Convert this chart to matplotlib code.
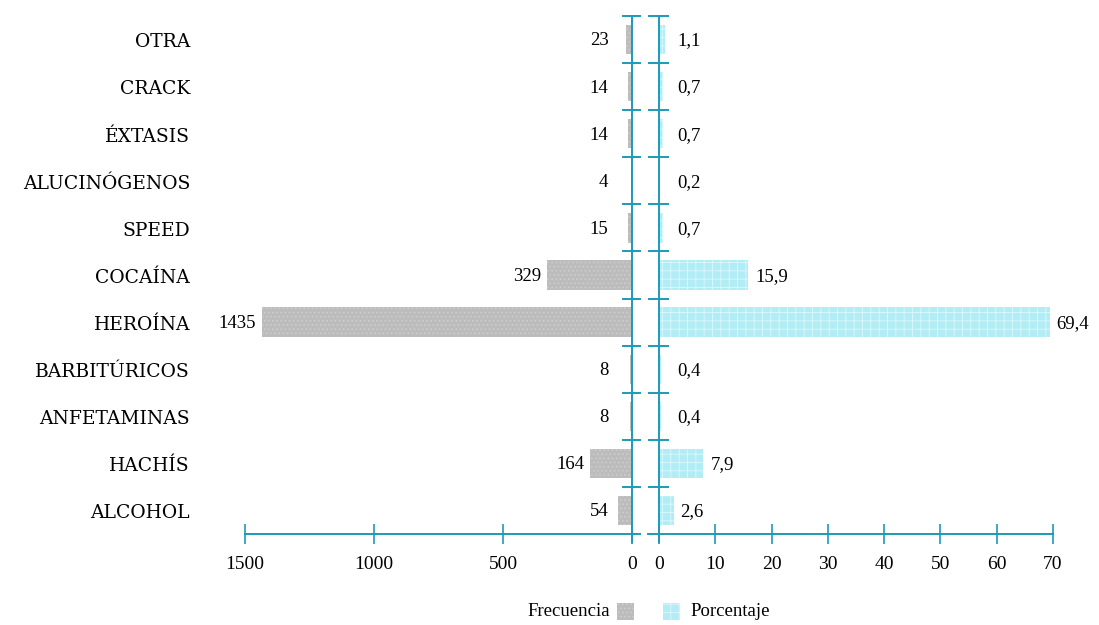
import matplotlib.pyplot as plt
import matplotlib.patches as mpatches
import numpy as np

plt.rcParams['font.family'] = ['Liberation Serif', 'DejaVu Serif']
plt.rcParams['hatch.linewidth'] = 0.6

# datos (de abajo hacia arriba)
categorias = ["ALCOHOL", "HACHÍS", "ANFETAMINAS", "BARBITÚRICOS", "HEROÍNA",
              "COCAÍNA", "SPEED", "ALUCINÓGENOS", "ÉXTASIS", "CRACK", "OTRA"]
frecuencia = [54, 164, 8, 8, 1435, 329, 15, 4, 14, 14, 23]
porcentaje = [2.6, 7.9, 0.4, 0.4, 69.4, 15.9, 0.7, 0.2, 0.7, 0.7, 1.1]
ticks_frec = [1500, 1000, 500, 0]
ticks_porc = [0, 10, 20, 30, 40, 50, 60, 70]

eje = '#1b9bb8'
gris = '#bcbcbc'
cian = '#b2ecf5'

fig = plt.figure(figsize=(10.99, 6.25), dpi=100)
bot, top = 1 - 534 / 625, 1 - 16 / 625
axL = fig.add_axes([245 / 1099, bot, (632 - 245) / 1099, top - bot])
axR = fig.add_axes([659 / 1099, bot, (1053 - 659) / 1099, top - bot])

y = np.arange(len(categorias))
n = len(categorias)

# izquierda: frecuencia
axL.barh(y, frecuencia, height=0.62, color=gris, edgecolor='#cfcfcf',
         hatch='....', linewidth=0)
axL.set_xlim(1500, 0)
axL.set_ylim(-0.5, n - 0.5)
for yi, v in zip(y, frecuencia):
    axL.annotate(str(v), (max(v, 70), yi), xytext=(-4, -1), textcoords='offset points',
                 ha='right', va='center', fontsize=13.5)

# derecha: porcentaje
axR.barh(y, porcentaje, height=0.62, color=cian, edgecolor='#dcf8fc',
         hatch='++', linewidth=0)
axR.set_xlim(0, 70)
axR.set_ylim(-0.5, n - 0.5)
for yi, v in zip(y, porcentaje):
    axR.annotate(f"{v:.1f}".replace('.', ','), (max(v, 2.0), yi), xytext=(5, -1),
                 textcoords='offset points', ha='left', va='center', fontsize=13.5)

# etiquetas de categoria
for yi, c in zip(y, categorias):
    axL.annotate(c, (0, yi), xycoords=('figure fraction', 'data'),
                 xytext=(190 / 1099, -2), textcoords=('figure fraction', 'offset points'),
                 ha='right', va='center', fontsize=13.5,
                 family=['DejaVu Serif'], fontweight='light')

for ax, ticks in ((axL, ticks_frec), (axR, ticks_porc)):
    for s in ax.spines.values():
        s.set_visible(False)
    ax.set_yticks([])
    ax.set_xticks(ticks)
    ax.tick_params(axis='x', direction='inout', length=14, width=1.2, color=eje,
                   labelsize=14, pad=9)

# ejes dibujados a mano
axL.plot([1500, -30], [-0.5, -0.5], color=eje, lw=1.4, clip_on=False)
axL.plot([0, 0], [-0.68, n - 0.5], color=eje, lw=1.4, clip_on=False)
axR.plot([-2, 70], [-0.5, -0.5], color=eje, lw=1.4, clip_on=False)
axR.plot([0, 0], [-0.68, n - 0.5], color=eje, lw=1.4, clip_on=False)
for b in np.arange(0.5, n, 1.0):
    axL.plot([35, -30], [b, b], color=eje, lw=1.4, clip_on=False)
    axR.plot([-1.8, 1.6], [b, b], color=eje, lw=1.4, clip_on=False)

# leyenda
fig.text(610 / 1099, 1 - 612 / 625, "Frecuencia", ha='right', va='center', fontsize=13.5)
fig.text(690 / 1099, 1 - 612 / 625, "Porcentaje", ha='left', va='center', fontsize=13.5)
fig.patches.append(mpatches.Rectangle((617 / 1099, 1 - 620 / 625), 17 / 1099, 17 / 625,
                                      transform=fig.transFigure, facecolor=gris,
                                      edgecolor='#cfcfcf', hatch='....', linewidth=0))
fig.patches.append(mpatches.Rectangle((663 / 1099, 1 - 620 / 625), 17 / 1099, 17 / 625,
                                      transform=fig.transFigure, facecolor=cian,
                                      edgecolor='#dcf8fc', hatch='++', linewidth=0))

fig.savefig('out.png', dpi=100)
